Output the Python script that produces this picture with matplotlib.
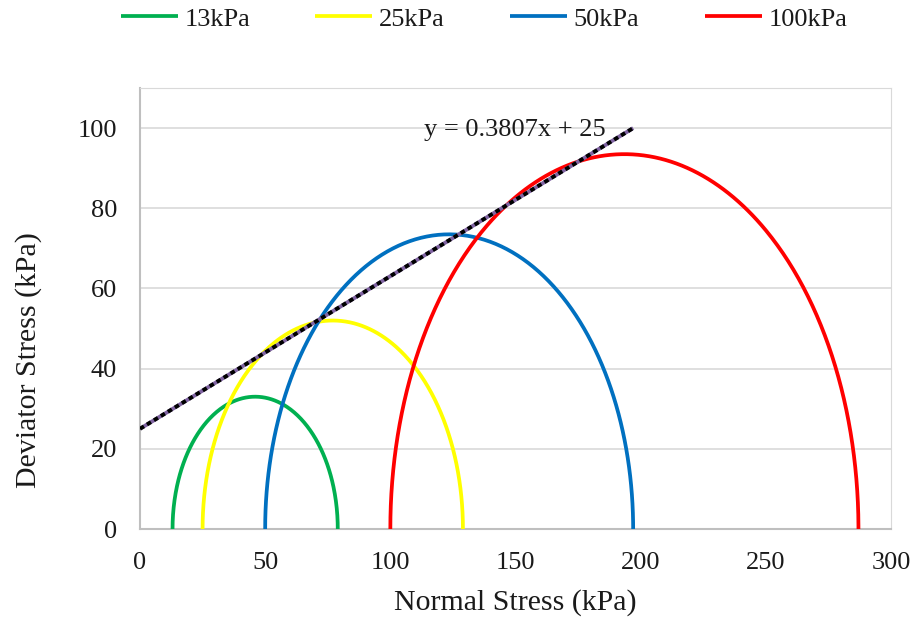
import numpy as np
import matplotlib
matplotlib.use("Agg")
import matplotlib.pyplot as plt

plt.rcParams['font.family'] = ['Liberation Serif', 'DejaVu Serif']

labels = ["13kPa", "25kPa", "50kPa", "100kPa"]
sigma3 = [13, 25, 50, 100]        # left end of each circle (kPa)
sigma1 = [79, 129, 197, 287]      # right end of each circle (kPa)
colors = ["#00B050", "#FFFF00", "#0070C0", "#FF0000"]
slope = 0.3807
intercept = 25
line_x = [0, 197]
equation = "y = 0.3807x + 25"

W, H = 914, 619
fig = plt.figure(figsize=(W / 100, H / 100), dpi=100)
L, R, T, B = 140, 891, 88, 529
ax = fig.add_axes([L / W, 1 - B / H, (R - L) / W, (B - T) / H])

t = np.linspace(np.pi, 0, 400)
for s3, s1, c, lab in zip(sigma3, sigma1, colors, labels):
    cen = (s1 + s3) / 2
    r = (s1 - s3) / 2
    ax.plot(cen + r * np.cos(t), r * np.sin(t), color=c, lw=2.7, label=lab,
            solid_capstyle='butt', zorder=3)

lx = np.array(line_x, dtype=float)
ly = slope * lx + intercept
ax.plot(lx, ly, color="#8064A2", lw=2.8, zorder=4, solid_capstyle='butt')
ax.plot(lx, ly, color="black", lw=2.8, ls=(0, (1.2, 0.9)), zorder=5,
        dash_capstyle='butt')
ax.text(149.8, 99.6, equation, ha='center', va='center', fontsize=19, zorder=6,
        color="#1a1a1a")

ax.set_xlim(0, 300)
ax.set_ylim(0, 110)
ax.set_xticks(range(0, 301, 50))
ax.set_yticks(range(0, 101, 20))
ax.yaxis.grid(True, color="#D9D9D9", lw=1.2)
ax.set_axisbelow(True)
ax.tick_params(length=0, labelsize=19, pad=16.5, labelcolor="#1a1a1a")
for s in ['top', 'right']:
    ax.spines[s].set_color("#D9D9D9")
for s in ['left', 'bottom']:
    ax.spines[s].set_color("#BFBFBF")
    ax.spines[s].set_linewidth(1.5)

ax.set_xlabel("Normal Stress (kPa)", fontsize=21.5, color="#1a1a1a")
ax.set_ylabel("Deviator Stress (kPa)", fontsize=21.5, color="#1a1a1a")
ax.xaxis.set_label_coords(0.5, (B - 589) / (B - T))
ax.yaxis.set_label_coords((42 - L) / (R - L), (B - 360) / (B - T))

fig.legend(loc='center left', bbox_to_anchor=(0.106, 1 - 19 / H), ncol=4,
           frameon=False, fontsize=19, handlelength=2.16, columnspacing=2.48,
           handletextpad=0.25, borderpad=0.4, labelcolor="#1a1a1a")

fig.savefig("out.png", dpi=100, facecolor='white')
